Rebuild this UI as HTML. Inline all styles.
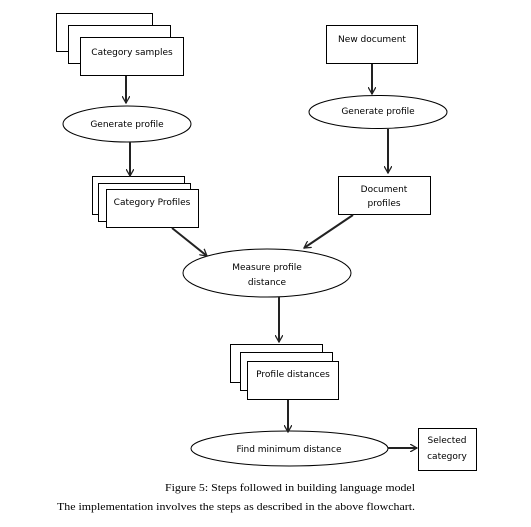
<!DOCTYPE html>
<html><head><meta charset="utf-8"><style>body{margin:0;background:#fff}svg{display:block}</style></head><body>
<svg width="531" height="527" viewBox="0 0 531 527" xmlns="http://www.w3.org/2000/svg">
<defs><marker id="a" markerWidth="8" markerHeight="8" refX="7" refY="4" orient="auto" markerUnits="userSpaceOnUse"><path d="M0,0 L7,4 L0,8" fill="none" stroke="#222" stroke-width="1.3"/></marker></defs>
<g fill="#fff" stroke="#000" stroke-width="1">
<rect x="56.5" y="13.5" width="96" height="38"/><rect x="68.5" y="25.5" width="102" height="38"/><rect x="80.5" y="37.5" width="103" height="38"/>
<rect x="92.5" y="176.5" width="92" height="38"/><rect x="98.5" y="183.5" width="92" height="38"/><rect x="106.5" y="189.5" width="92" height="38"/>
<rect x="230.5" y="344.5" width="92" height="38"/><rect x="240.5" y="352.5" width="92" height="38"/><rect x="247.5" y="361.5" width="91" height="38"/>
<rect x="326.5" y="25.5" width="91" height="38"/><rect x="338.5" y="176.5" width="92" height="38"/><rect x="418.5" y="428.5" width="58" height="42"/>
<ellipse cx="127" cy="124" rx="64" ry="18"/><ellipse cx="378" cy="112" rx="69" ry="16.5"/><ellipse cx="267" cy="273" rx="84" ry="24"/><ellipse cx="289.5" cy="448.5" rx="98.5" ry="17.5"/>
</g>
<g stroke="#222" stroke-width="2" fill="none" marker-end="url(#a)">
<line x1="126" y1="76" x2="126" y2="103"/><line x1="130" y1="142" x2="130" y2="176"/>
<line x1="372" y1="64" x2="372" y2="94"/><line x1="388" y1="129" x2="388" y2="173"/>
<line x1="172" y1="228" x2="207" y2="256"/><line x1="353" y1="215" x2="304" y2="248"/>
<line x1="279" y1="297" x2="279" y2="342"/><line x1="288" y1="400" x2="288" y2="432"/><line x1="388" y1="448" x2="417" y2="448"/>
</g>
<g font-family="'DejaVu Sans',sans-serif" font-size="9" fill="#000" text-anchor="middle">
<text x="132" y="55">Category samples</text>
<text x="127" y="127">Generate profile</text>
<text x="152" y="205">Category Profiles</text>
<text x="293" y="377">Profile distances</text>
<text x="372" y="42">New document</text>
<text x="378" y="114">Generate profile</text>
<text x="384" y="192">Document</text><text x="384" y="206">profiles</text>
<text x="267" y="270">Measure profile</text><text x="267" y="285">distance</text>
<text x="289" y="452">Find minimum distance</text>
<text x="447" y="443">Selected</text><text x="447" y="459">category</text>
</g>
<g font-family="'Liberation Serif',serif" font-size="11" fill="#000">
<text x="165" y="491" textLength="250" lengthAdjust="spacingAndGlyphs">Figure 5: Steps followed in building language model</text>
<text x="57" y="510" textLength="358" lengthAdjust="spacingAndGlyphs">The implementation  involves the steps as described in the above flowchart.</text>
</g>
</svg>
</body></html>
